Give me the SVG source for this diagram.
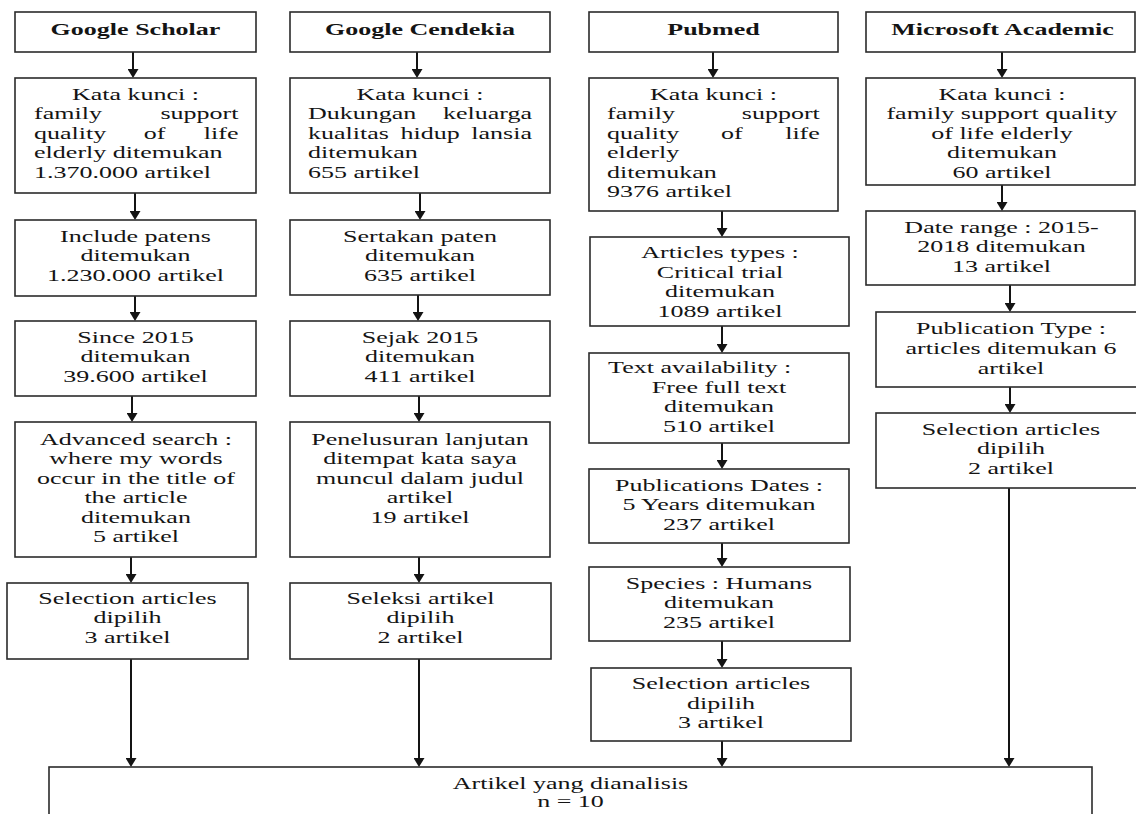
<svg xmlns="http://www.w3.org/2000/svg" width="1136" height="814" viewBox="0 0 1136 814">
<style>
.bg{fill:#fff}
.box{fill:#fff;stroke:#2b2b2b;stroke-width:1.6}
.t{font-family:"Liberation Serif","Times New Roman",serif;font-size:17px;fill:#141414}
.b{font-weight:bold}
.c{text-anchor:middle}
.s{text-anchor:start}
.e{text-anchor:end}
.ln{stroke:#141414;stroke-width:2;fill:none;marker-end:url(#ah)}
.pl{stroke:#141414;stroke-width:2;fill:none}
</style>
<defs>
<marker id="ah" viewBox="0 0 9 11" refX="6" refY="5.5" markerWidth="9" markerHeight="11" markerUnits="userSpaceOnUse" orient="auto" preserveAspectRatio="none"><path d="M0,0 L9,5.5 L0,11 z" fill="#141414"/></marker>
</defs>
<rect class="bg" x="0" y="0" width="1136" height="814"/>

<g id="connectors">
<line class="ln" x1="133" y1="52" x2="133" y2="75"/>
<line class="ln" x1="135" y1="193" x2="135" y2="217"/>
<line class="ln" x1="135" y1="296" x2="135" y2="318"/>
<line class="ln" x1="132" y1="396" x2="132" y2="419"/>
<line class="ln" x1="131" y1="557" x2="131" y2="580"/>
<line class="ln" x1="131" y1="659" x2="131" y2="764"/>

<line class="ln" x1="417" y1="52" x2="417" y2="75"/>
<line class="ln" x1="420" y1="193" x2="420" y2="217"/>
<line class="ln" x1="418" y1="295" x2="418" y2="318"/>
<line class="ln" x1="419" y1="396" x2="419" y2="419"/>
<line class="ln" x1="419" y1="557" x2="419" y2="580"/>
<line class="ln" x1="419" y1="659" x2="419" y2="764"/>

<line class="ln" x1="713" y1="52" x2="713" y2="75"/>
<line class="ln" x1="722" y1="211" x2="722" y2="234"/>
<line class="ln" x1="722" y1="326" x2="722" y2="350"/>
<line class="ln" x1="722" y1="443" x2="722" y2="466"/>
<line class="ln" x1="722" y1="543" x2="722" y2="564"/>
<line class="ln" x1="722" y1="641" x2="722" y2="665"/>
<line class="ln" x1="722" y1="741" x2="722" y2="764"/>

<line class="ln" x1="1002" y1="52" x2="1002" y2="75"/>
<line class="ln" x1="1002" y1="185" x2="1002" y2="208"/>
<line class="ln" x1="1010" y1="285" x2="1010" y2="309"/>
<line class="ln" x1="1010" y1="387" x2="1010" y2="410"/>
<line class="ln" x1="1009" y1="488" x2="1009" y2="764"/>
</g>

<!-- Column 1: Google Scholar -->
<g id="gs-head">
<rect class="box" x="15" y="12" width="241" height="40"/>
<g transform="matrix(1.53 0 0 1 135.5 0)"><text class="t b c" x="0" y="35">Google Scholar</text></g>
</g>
<g id="gs-keyword">
<rect class="box" x="15" y="78" width="241" height="115"/>
<g transform="matrix(1.53 0 0 1 135.5 0)">
<text class="t c" x="0" y="100">Kata kunci :</text>
<text class="t s" x="-66.3" y="119.5">family</text><text class="t e" x="67.3" y="119.5">support</text>
<text class="t s" x="-66.3" y="139">quality</text><text class="t c" x="12.5" y="139">of</text><text class="t e" x="67.3" y="139">life</text>
<text class="t s" x="-66.3" y="158.5">elderly ditemukan</text>
<text class="t s" x="-66.3" y="178">1.370.000 artikel</text>
</g>
</g>
<g id="gs-patens">
<rect class="box" x="15" y="220" width="241" height="76"/>
<g transform="matrix(1.53 0 0 1 135.5 0)"><text class="t c">
<tspan x="0" y="242">Include patens</tspan><tspan x="0" y="261.5">ditemukan</tspan><tspan x="0" y="281">1.230.000 artikel</tspan></text></g>
</g>
<g id="gs-since">
<rect class="box" x="15" y="321" width="241" height="75"/>
<g transform="matrix(1.53 0 0 1 135.5 0)"><text class="t c">
<tspan x="0" y="343">Since 2015</tspan><tspan x="0" y="362.5">ditemukan</tspan><tspan x="0" y="382">39.600 artikel</tspan></text></g>
</g>
<g id="gs-advanced">
<rect class="box" x="15" y="422" width="241" height="135"/>
<g transform="matrix(1.53 0 0 1 136 0)"><text class="t c">
<tspan x="0" y="445">Advanced search :</tspan><tspan x="0" y="464.5">where my words</tspan><tspan x="0" y="484">occur in the title of</tspan><tspan x="0" y="503.5">the article</tspan><tspan x="0" y="523">ditemukan</tspan><tspan x="0" y="542.5">5 artikel</tspan></text></g>
</g>
<g id="gs-selection">
<rect class="box" x="7" y="583" width="241" height="76"/>
<g transform="matrix(1.53 0 0 1 127.5 0)"><text class="t c">
<tspan x="0" y="604">Selection articles</tspan><tspan x="0" y="623.5">dipilih</tspan><tspan x="0" y="643">3 artikel</tspan></text></g>
</g>

<!-- Column 2: Google Cendekia -->
<g id="gc-head">
<rect class="box" x="290" y="12" width="260" height="40"/>
<g transform="matrix(1.53 0 0 1 420 0)"><text class="t b c" x="0" y="35">Google Cendekia</text></g>
</g>
<g id="gc-keyword">
<rect class="box" x="290" y="78" width="260" height="115"/>
<g transform="matrix(1.53 0 0 1 420 0)">
<text class="t c" x="0" y="100">Kata kunci :</text>
<text class="t s" x="-73.2" y="119.5">Dukungan</text><text class="t e" x="73.2" y="119.5">keluarga</text>
<text class="t s" x="-73.2" y="139">kualitas</text><text class="t c" x="6.6" y="139">hidup</text><text class="t e" x="73.2" y="139">lansia</text>
<text class="t s" x="-73.2" y="158.5">ditemukan</text>
<text class="t s" x="-73.2" y="178">655 artikel</text>
</g>
</g>
<g id="gc-paten">
<rect class="box" x="290" y="220" width="260" height="75"/>
<g transform="matrix(1.53 0 0 1 420 0)"><text class="t c">
<tspan x="0" y="242">Sertakan paten</tspan><tspan x="0" y="261.5">ditemukan</tspan><tspan x="0" y="281">635 artikel</tspan></text></g>
</g>
<g id="gc-sejak">
<rect class="box" x="290" y="321" width="260" height="75"/>
<g transform="matrix(1.53 0 0 1 420 0)"><text class="t c">
<tspan x="0" y="343">Sejak 2015</tspan><tspan x="0" y="362.5">ditemukan</tspan><tspan x="0" y="382">411 artikel</tspan></text></g>
</g>
<g id="gc-penelusuran">
<rect class="box" x="290" y="422" width="260" height="135"/>
<g transform="matrix(1.53 0 0 1 420 0)"><text class="t c">
<tspan x="0" y="445">Penelusuran lanjutan</tspan><tspan x="0" y="464.5">ditempat kata saya</tspan><tspan x="0" y="484">muncul dalam judul</tspan><tspan x="0" y="503.5">artikel</tspan><tspan x="0" y="523">19 artikel</tspan></text></g>
</g>
<g id="gc-seleksi">
<rect class="box" x="290" y="583" width="261" height="76"/>
<g transform="matrix(1.53 0 0 1 420.5 0)"><text class="t c">
<tspan x="0" y="604">Seleksi artikel</tspan><tspan x="0" y="623.5">dipilih</tspan><tspan x="0" y="643">2 artikel</tspan></text></g>
</g>

<!-- Column 3: Pubmed -->
<g id="pm-head">
<rect class="box" x="589" y="12" width="249" height="40"/>
<g transform="matrix(1.53 0 0 1 713.5 0)"><text class="t b c" x="0" y="35">Pubmed</text></g>
</g>
<g id="pm-keyword">
<rect class="box" x="589" y="78" width="249" height="133"/>
<g transform="matrix(1.53 0 0 1 713.5 0)">
<text class="t c" x="0" y="100">Kata kunci :</text>
<text class="t s" x="-69.6" y="119.5">family</text><text class="t e" x="69.5" y="119.5">support</text>
<text class="t s" x="-69.6" y="139">quality</text><text class="t c" x="12" y="139">of</text><text class="t e" x="69.5" y="139">life</text>
<text class="t s" x="-69.6" y="158.5">elderly</text>
<text class="t s" x="-69.6" y="178">ditemukan</text>
<text class="t s" x="-69.6" y="197.5">9376 artikel</text>
</g>
</g>
<g id="pm-types">
<rect class="box" x="590" y="237" width="259" height="89"/>
<g transform="matrix(1.53 0 0 1 720 0)"><text class="t c">
<tspan x="0" y="258.5">Articles types :</tspan><tspan x="0" y="278">Critical trial</tspan><tspan x="0" y="297.5">ditemukan</tspan><tspan x="0" y="317">1089 artikel</tspan></text></g>
</g>
<g id="pm-availability">
<rect class="box" x="589" y="353" width="260" height="90"/>
<g transform="matrix(1.53 0 0 1 719 0)">
<text class="t s" x="-72.5" y="373">Text availability :</text>
<text class="t c"><tspan x="0" y="393">Free full text</tspan><tspan x="0" y="412.5">ditemukan</tspan><tspan x="0" y="432">510 artikel</tspan></text></g>
</g>
<g id="pm-dates">
<rect class="box" x="589" y="469" width="260" height="74"/>
<g transform="matrix(1.53 0 0 1 719 0)"><text class="t c">
<tspan x="0" y="491">Publications Dates :</tspan><tspan x="0" y="510.5">5 Years ditemukan</tspan><tspan x="0" y="530">237 artikel</tspan></text></g>
</g>
<g id="pm-species">
<rect class="box" x="589" y="567" width="261" height="74"/>
<g transform="matrix(1.53 0 0 1 719 0)"><text class="t c">
<tspan x="0" y="589">Species : Humans</tspan><tspan x="0" y="608.5">ditemukan</tspan><tspan x="0" y="628">235 artikel</tspan></text></g>
</g>
<g id="pm-selection">
<rect class="box" x="591" y="668" width="260" height="73"/>
<g transform="matrix(1.53 0 0 1 721 0)"><text class="t c">
<tspan x="0" y="689.5">Selection articles</tspan><tspan x="0" y="709">dipilih</tspan><tspan x="0" y="728.5">3 artikel</tspan></text></g>
</g>

<!-- Column 4: Microsoft Academic -->
<g id="ma-head">
<rect class="box" x="866" y="12" width="269" height="40"/>
<g transform="matrix(1.53 0 0 1 1002.5 0)"><text class="t b c" x="0" y="35">Microsoft Academic</text></g>
</g>
<g id="ma-keyword">
<rect class="box" x="866" y="78" width="269" height="107"/>
<g transform="matrix(1.53 0 0 1 1002 0)"><text class="t c">
<tspan x="0" y="100">Kata kunci :</tspan><tspan x="0" y="119.5">family support quality</tspan><tspan x="0" y="139">of life elderly</tspan><tspan x="0" y="158.5">ditemukan</tspan><tspan x="0" y="178">60 artikel</tspan></text></g>
</g>
<g id="ma-date">
<rect class="box" x="866" y="211" width="269" height="74"/>
<g transform="matrix(1.53 0 0 1 1001.5 0)"><text class="t c">
<tspan x="0" y="233">Date range : 2015-</tspan><tspan x="0" y="252.5">2018 ditemukan</tspan><tspan x="0" y="272">13 artikel</tspan></text></g>
</g>
<g id="ma-type">
<rect class="box" x="876" y="312" width="262" height="75"/>
<g transform="matrix(1.53 0 0 1 1011 0)"><text class="t c">
<tspan x="0" y="334.5">Publication Type :</tspan><tspan x="0" y="354.5">articles ditemukan 6</tspan><tspan x="0" y="374.5">artikel</tspan></text></g>
</g>
<g id="ma-selection">
<rect class="box" x="876" y="413" width="262" height="75"/>
<g transform="matrix(1.53 0 0 1 1011 0)"><text class="t c">
<tspan x="0" y="435">Selection articles</tspan><tspan x="0" y="454.5">dipilih</tspan><tspan x="0" y="474">2 artikel</tspan></text></g>
</g>

<!-- Result -->
<g id="result">
<rect class="box" x="49" y="767" width="1043" height="80"/>
<g transform="matrix(1.53 0 0 1 570.5 0)"><text class="t c">
<tspan x="0" y="789">Artikel yang dianalisis</tspan><tspan x="0" y="807">n = 10</tspan></text></g>
</g>
</svg>
